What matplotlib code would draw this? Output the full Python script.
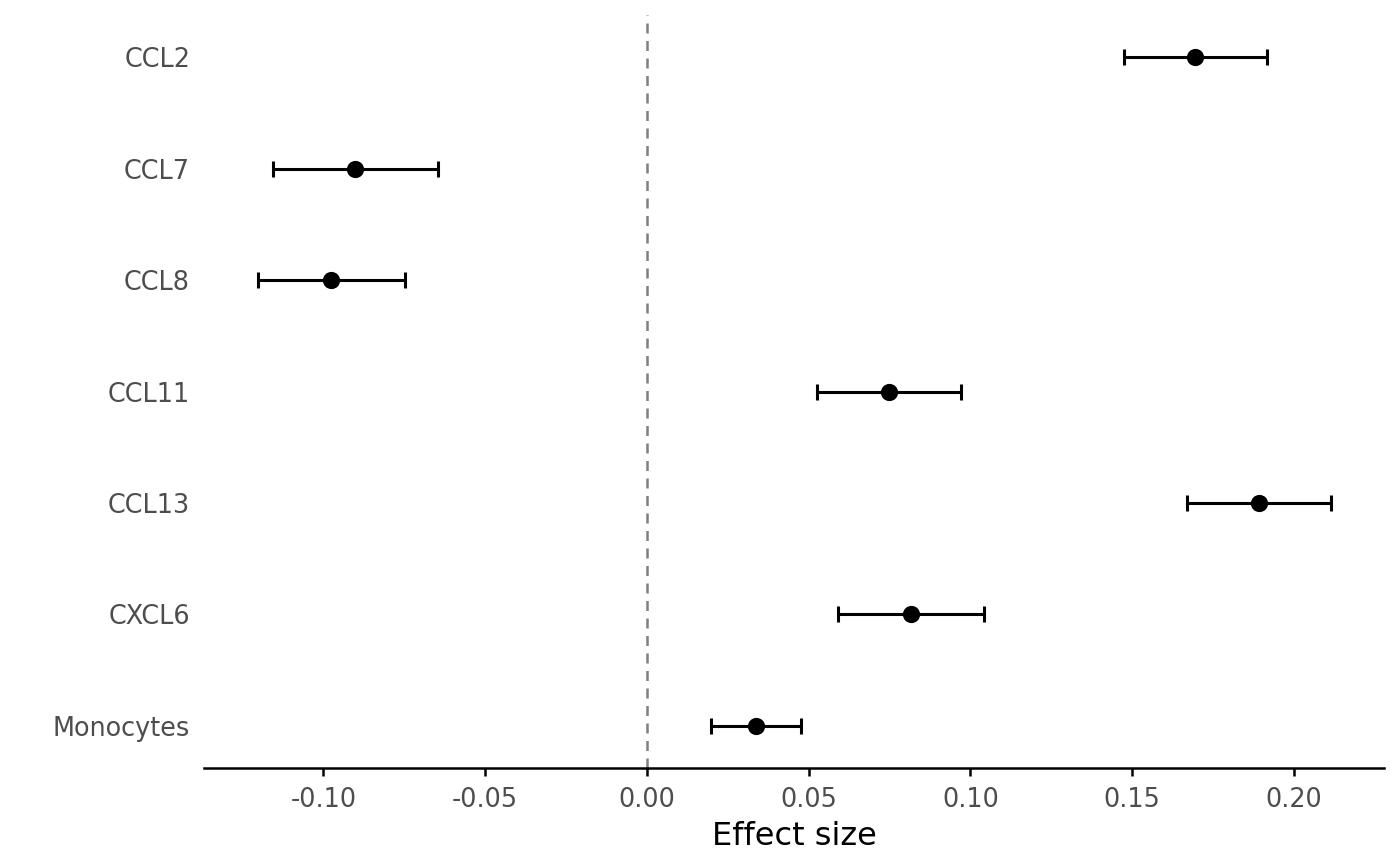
import matplotlib
matplotlib.use("Agg")
import matplotlib.pyplot as plt

# effect sizes
labels = ["CCL2", "CCL7", "CCL8", "CCL11", "CCL13", "CXCL6", "Monocytes"]
effect = [0.1694, -0.0903, -0.0977, 0.0748, 0.1892, 0.0816, 0.0337]
lower = [0.1474, -0.1156, -0.1202, 0.0526, 0.1669, 0.0590, 0.0198]
upper = [0.1917, -0.0646, -0.0748, 0.0971, 0.2114, 0.1042, 0.0476]

plt.rcParams['font.family'] = ['DejaVu Sans']

fig = plt.figure(figsize=(7, 4.33), dpi=200)
ax = fig.add_axes([204/1400, 98/866, (1384-204)/1400, (768-15)/866])

ypos = list(range(len(labels), 0, -1))
xerr = [[e - l for e, l in zip(effect, lower)], [u - e for e, u in zip(effect, upper)]]

ax.axvline(0, color="#7f7f7f", linestyle=(0, (4, 3)), linewidth=0.9, zorder=1)
ax.errorbar(effect, ypos, xerr=xerr, fmt="o", color="black", ecolor="black",
            elinewidth=1.1, capsize=2.9, capthick=1.1, markersize=5.2, zorder=3)

ax.set_yticks(ypos)
ax.set_yticklabels(labels)
ax.set_ylim(0.623, 7.377)
ax.set_xlim(-0.1369, 0.2278)
ax.set_xticks([-0.10, -0.05, 0.0, 0.05, 0.10, 0.15, 0.20])
ax.set_xticklabels(["-0.10", "-0.05", "0.00", "0.05", "0.10", "0.15", "0.20"])
ax.set_xlabel("Effect size", fontsize=11.5, color="black", labelpad=3)

for s in ["top", "right", "left"]:
    ax.spines[s].set_visible(False)
ax.spines["bottom"].set_linewidth(0.9)
ax.tick_params(axis="y", length=0, labelsize=9.2, labelcolor="#4d4d4d", pad=5)
ax.tick_params(axis="x", length=2.75, width=0.9, labelsize=9.2, labelcolor="#4d4d4d", pad=4)

fig.savefig("out.png", dpi=200)
